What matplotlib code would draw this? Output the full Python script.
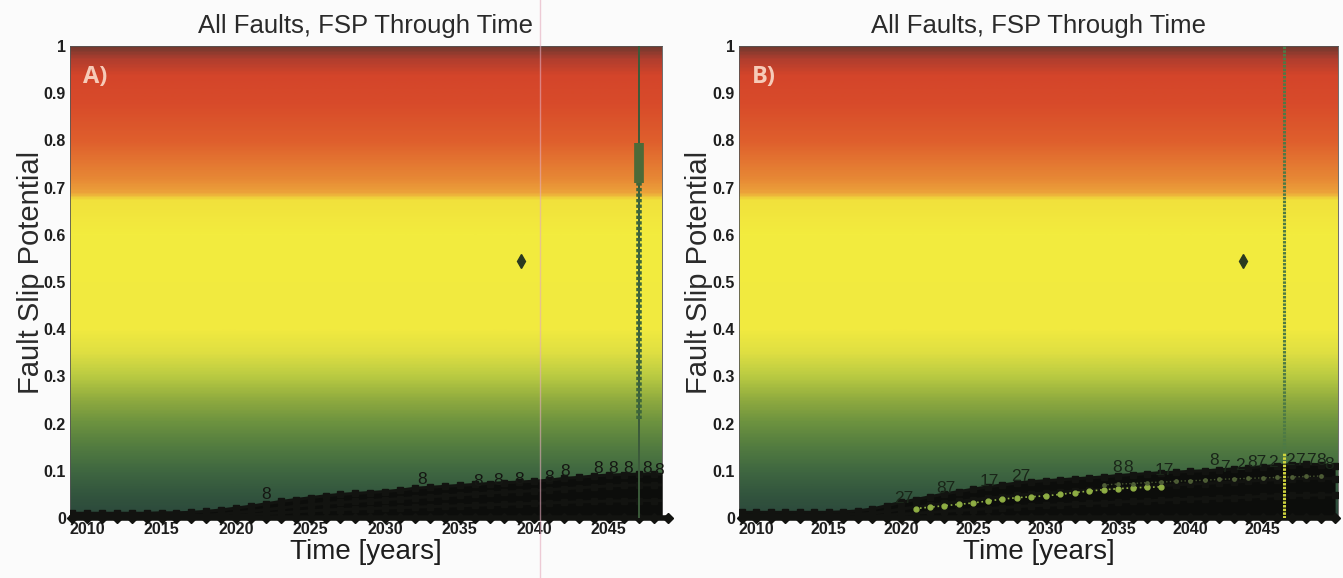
import matplotlib
matplotlib.use("Agg")
import matplotlib.pyplot as plt
from matplotlib.colors import LinearSegmentedColormap
from matplotlib.lines import Line2D
import numpy as np

plt.rcParams['font.family'] = ['Liberation Sans', 'DejaVu Sans']

# --- data ---
tick_years = [2010, 2015, 2020, 2025, 2030, 2035, 2040, 2045]
tick_fsp = [0, 0.1, 0.2, 0.3, 0.4, 0.5, 0.6, 0.7, 0.8, 0.9, 1]
tick_fsp_labels = ["0", "0.1", "0.2", "0.3", "0.4", "0.5", "0.6", "0.7", "0.8", "0.9", "1"]

# panel A
years_a = list(range(2009, 2050))
fsp_a_top = [.010, .010, .010, .010, .010, .010, .011, .011, .012, .014,
             .017, .021, .025, .030, .035, .039, .043, .047, .050, .052,
             .054, .056, .059, .063, .065, .067, .069, .071, .073, .075,
             .076, .078, .080, .084, .086, .089, .091, .092, .093, .093, .092]
fsp_a_mid = [.006, .006, .006, .006, .006, .006, .006, .006, .006, .006,
             .008, .011, .014, .018, .021, .025, .028, .031, .033, .035,
             .037, .039, .041, .043, .045, .047, .049, .051, .053, .055,
             .056, .058, .060, .062, .064, .066, .068, .069, .070, .070, .070]
fsp_a_low = [.003, .003, .003, .003, .003, .003, .003, .003, .003, .003,
             .004, .005, .007, .009, .011, .013, .015, .017, .018, .019,
             .020, .021, .022, .023, .024, .025, .026, .027, .028, .029,
             .030, .031, .032, .033, .034, .035, .036, .036, .037, .037, .037]
fsp_a_base = [0.0, 0.0, 0.0, 0.0, 0.0, 0.0, 0.0, 0.0, 0.0, 0.0,
              0.0, 0.0, 0.0, 0.0, 0.0, 0.0, 0.0, 0.0, 0.0, 0.0,
              0.0, 0.0, 0.0, 0.0, 0.0, 0.0, 0.0, 0.0, 0.0, 0.0,
              0.0, 0.0, 0.0, 0.0, 0.0, 0.0, 0.0, 0.0, 0.0, 0.0, 0.0]
label_a_x = [2022.0, 2032.5, 2036.2, 2037.6, 2039.0, 2041.0, 2042.1, 2044.3, 2045.3, 2046.3, 2047.6, 2048.4]
label_a_y = [0.050, 0.082, 0.078, 0.080, 0.082, 0.086, 0.098, 0.104, 0.105, 0.105, 0.104, 0.100]
label_a_txt = ["8", "8", "8", "8", "8", "8", "8", "8", "8", "8", "8", "8"]
outlier_a = (2039.1, 0.545)
jump_year_a = 2047.0
jump_box_a = (0.71, 0.795)
jump_chain_a = (0.21, 0.71)

# panel B
years_b = list(range(2009, 2051))
fsp_b_top = [.012, .012, .012, .012, .012, .012, .012, .013, .015, .019,
             .026, .033, .039, .045, .051, .056, .061, .066, .070, .074,
             .077, .079, .081, .083, .085, .087, .090, .092, .094, .096,
             .097, .099, .100, .102, .104, .106, .109, .111, .113, .114,
             .113, .110]
fsp_b_mid = [.007, .007, .007, .007, .007, .007, .007, .007, .008, .010,
             .014, .019, .023, .027, .031, .035, .039, .042, .045, .048,
             .051, .053, .055, .057, .059, .061, .063, .065, .067, .069,
             .070, .072, .073, .075, .076, .078, .080, .081, .083, .084,
             .084, .083]
fsp_b_low = [.003, .003, .003, .003, .003, .003, .003, .003, .003, .004,
             .006, .008, .010, .012, .014, .016, .018, .020, .022, .024,
             .026, .027, .028, .030, .031, .032, .034, .035, .036, .038,
             .039, .040, .041, .042, .043, .044, .046, .047, .048, .048,
             .049, .049]
fsp_b_base = [0.0, 0.0, 0.0, 0.0, 0.0, 0.0, 0.0, 0.0, 0.0, 0.0,
              0.0, 0.0, 0.0, 0.0, 0.0, 0.0, 0.0, 0.0, 0.0, 0.0,
              0.0, 0.0, 0.0, 0.0, 0.0, 0.0, 0.0, 0.0, 0.0, 0.0,
              0.0, 0.0, 0.0, 0.0, 0.0, 0.0, 0.0, 0.0, 0.0, 0.0,
              0.0, 0.0]
light_b_years = list(range(2021, 2039))
light_b_fsp = [.020, .023, .026, .029, .032, .036, .040, .043, .045, .047,
               .050, .054, .057, .060, .062, .064, .065, .066]
light2_b_years = list(range(2034, 2050))
light2_b_fsp = [.070, .072, .073, .075, .076, .078, .079, .080, .082, .083,
                .084, .085, .086, .087, .088, .089]
label_b_x = [2020.2, 2023.1, 2026.1, 2028.3, 2034.9, 2035.7, 2038.2, 2041.6, 2042.4,
             2043.4, 2044.6, 2045.7, 2046.9, 2047.6, 2048.3, 2049.0, 2049.6]
label_b_y = [0.042, 0.062, 0.077, 0.088, 0.106, 0.106, 0.100, 0.121, 0.108,
             0.112, 0.118, 0.118, 0.122, 0.122, 0.122, 0.122, 0.114]
label_b_txt = ["27", "87", "17", "27", "8", "8", "17", "8", "7",
               "2", "87", "2", "2", "7", "7", "8", "8"]
outlier_b = (2043.6, 0.545)
jump_year_b = 2046.5

# background colour bands (FSP risk scale)
grad_pos = [0.0, 0.05, 0.10, 0.15, 0.20, 0.25, 0.30, 0.35, 0.40, 0.60,
            0.675, 0.69, 0.72, 0.80, 0.88, 0.94, 0.975, 1.0]
grad_col = ['#2b473b', '#33563e', '#406841', '#537c40', '#6c923f', '#90ab3f',
            '#bacb42', '#dfdf42', '#f1ea40', '#f3ec3e', '#f1e13c', '#eca33a',
            '#e78835', '#df5f2d', '#d84b2a', '#d4452a', '#b03e2e', '#76392f']
fsp_cmap = LinearSegmentedColormap.from_list("fsp", list(zip(grad_pos, grad_col)))

fig = plt.figure(figsize=(13.43, 5.78), dpi=100)
fig.patch.set_facecolor('#fbfbfb')

ax_a = fig.add_axes([70 / 1343, 1 - 518 / 578, 592 / 1343, 472 / 578])
ax_b = fig.add_axes([739 / 1343, 1 - 518 / 578, 599 / 1343, 472 / 578])


def setup_panel(ax, xlim, tag):
    grad = np.linspace(0, 1, 400).reshape(-1, 1)
    ax.imshow(grad, cmap=fsp_cmap, aspect='auto', origin='lower',
              extent=[xlim[0], xlim[1], 0, 1], interpolation='bilinear', zorder=0)
    ax.set_xlim(*xlim)
    ax.set_ylim(0, 1)
    ax.set_xticks(tick_years)
    ax.set_xticklabels([str(t) for t in tick_years], fontweight='bold', fontsize=11.5, color='#1e1e1e')
    ax.set_yticks(tick_fsp)
    ax.set_yticklabels(tick_fsp_labels, fontweight='bold', fontsize=11.5, color='#1e1e1e')
    ax.tick_params(length=0, pad=3)
    ax.set_title("All Faults, FSP Through Time", fontsize=18.5, color='#2a2a2a', pad=9)
    ax.set_xlabel("Time [years]", fontsize=20, color='#1e1e1e', labelpad=1)
    ax.set_ylabel("Fault Slip Potential", fontsize=21, color='#2a2a2a', labelpad=1)
    ax.yaxis.set_label_coords(-0.043, 0.52)
    for s in ax.spines.values():
        s.set_color('#555')
        s.set_linewidth(0.6)
    ax.text(0.022, 0.935, tag, transform=ax.transAxes, fontsize=17, fontweight='bold',
            color='#f6cbb8', family=['Open Sans', 'DejaVu Sans'], va='center', zorder=6)


def draw_faults(ax, years, base, faults):
    ax.fill_between(years, base, faults[0], color='#0c0d0b', lw=0, zorder=2)
    for vals in faults:
        ax.plot(years, vals, color='#121310', lw=2.2, marker='s', ms=5, zorder=3)
    ax.plot(years, base, color='#121310', lw=4, marker='D', ms=5.5, zorder=4, clip_on=False)


# --- panel A ---
setup_panel(ax_a, (2008.86, 2048.57), "A)")
draw_faults(ax_a, years_a, fsp_a_base, [fsp_a_top, fsp_a_mid, fsp_a_low])
for x, y, t in zip(label_a_x, label_a_y, label_a_txt):
    ax_a.text(x, y, t, fontsize=12.5, color='#151713', ha='center', va='center', zorder=5)
ax_a.plot([jump_year_a, jump_year_a], [0, 1], color='#3b5a3a', lw=1.4, zorder=4)
ax_a.plot([jump_year_a, jump_year_a], jump_chain_a, color='#3d663b', lw=4,
          linestyle=(0, (0.6, 0.4)), zorder=4)
ax_a.plot([jump_year_a, jump_year_a], jump_box_a, color='#4c6a38', lw=7,
          solid_capstyle='butt', zorder=4)
ax_a.plot(*outlier_a, marker='d', ms=7.5, color='#2b3a20', zorder=5)

# --- panel B ---
setup_panel(ax_b, (2008.8, 2050.2), "B)")
draw_faults(ax_b, years_b, fsp_b_base, [fsp_b_top, fsp_b_mid, fsp_b_low])
ax_b.plot(light_b_years, light_b_fsp, color='#8fae44', lw=1.2, linestyle=':',
          marker='o', ms=3.5, zorder=4)
ax_b.plot(light2_b_years, light2_b_fsp, color='#55663a', lw=1, linestyle=':',
          marker='o', ms=2.5, alpha=0.8, zorder=4)
for x, y, t in zip(label_b_x, label_b_y, label_b_txt):
    ax_b.text(x, y, t, fontsize=12.5, color='#1a2619', ha='center', va='center', zorder=5)
ax_b.plot([jump_year_b, jump_year_b], [0.14, 1], color='#4d7a45', lw=2.2,
          linestyle=(0, (0.8, 0.4)), zorder=4)
ax_b.plot([jump_year_b, jump_year_b], [0, 0.14], color='#cfd43e', lw=2.2,
          linestyle=(0, (0.8, 0.4)), zorder=4)
ax_b.plot(*outlier_b, marker='d', ms=7.5, color='#2b3a20', zorder=5)

# scan crease running through panel A
fig.add_artist(Line2D([540 / 1343, 540 / 1343], [0, 1], transform=fig.transFigure,
                      color='#e4aabd', lw=1, alpha=0.6, zorder=10))

fig.savefig("out.png", dpi=100, facecolor=fig.get_facecolor())
